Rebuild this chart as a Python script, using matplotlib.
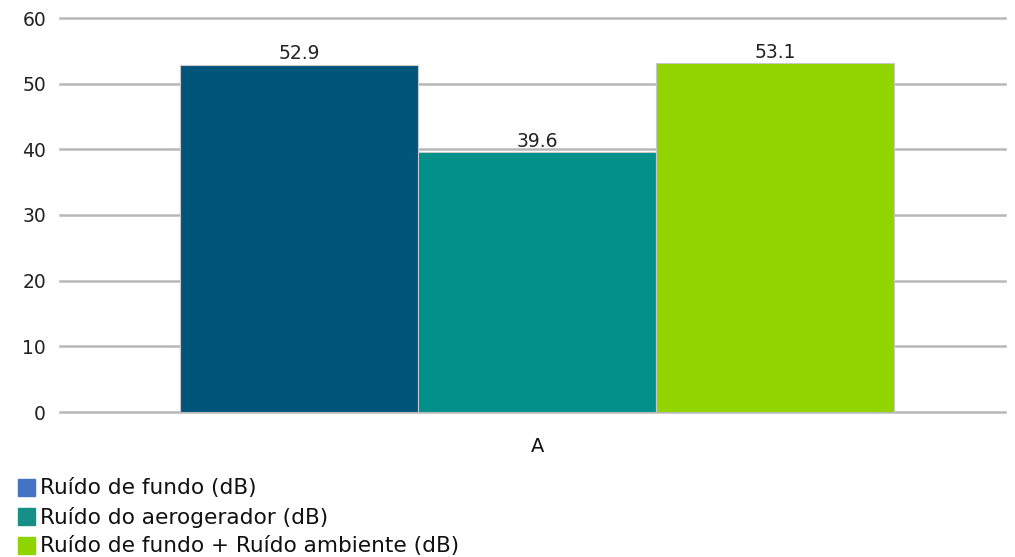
import matplotlib.pyplot as plt

# data
categories = ['A']
series_names = ['Ruído de fundo (dB)',
                'Ruído do aerogerador (dB)',
                'Ruído de fundo + Ruído ambiente (dB)']
series_values = [52.9, 39.6, 53.1]
yticks = [0, 10, 20, 30, 40, 50, 60]

bar_colors = ['#02557A', '#01908A', '#92D400']
legend_colors = ['#4472C4', '#168F86', '#8FD400']

plt.rcParams['font.family'] = ['DejaVu Sans']

fig = plt.figure(figsize=(10.15, 5.57), dpi=100)
ax = fig.add_axes([60/1015, 1-412/557, 945/1015, 394/557])

# grid lines drawn by hand so the top one is not clipped
for t in yticks:
    ax.axhline(t, color='#b8b8b8', lw=1.8, zorder=0, clip_on=False)

width = 0.252
offsets = [-width, 0, width]
for name, val, col, off in zip(series_names, series_values, bar_colors, offsets):
    ax.bar(off, val, width=width, color=col, edgecolor='#c8c8c8', linewidth=0.8, zorder=2)
    ax.text(off, val + 0.2, '%.1f' % val, ha='center', va='bottom', fontsize=13.5, color='#222222')

ax.set_xlim(-0.505, 0.495)
ax.set_ylim(0, 60)
ax.set_yticks(yticks)
ax.set_yticklabels([str(t) for t in yticks], fontsize=13.5, color='#222222')
ax.set_xticks([0])
ax.set_xticklabels(categories, fontsize=14, color='#111111')
ax.tick_params(axis='both', length=0)
ax.tick_params(axis='y', pad=10)
ax.tick_params(axis='x', pad=18)
for s in ax.spines.values():
    s.set_visible(False)

# legend as a simple vertical list at the bottom left
rows_y = [488, 517, 546]
for name, col, yy in zip(series_names, legend_colors, rows_y):
    fig.patches.append(plt.Rectangle((18/1015, 1-(yy+8)/557), 17/1015, 17/557,
                                     transform=fig.transFigure, color=col, figure=fig))
    fig.text(40/1015, 1-yy/557, name, fontsize=15.6, va='center', ha='left', color='#111111')

fig.savefig('out.png', dpi=100)
